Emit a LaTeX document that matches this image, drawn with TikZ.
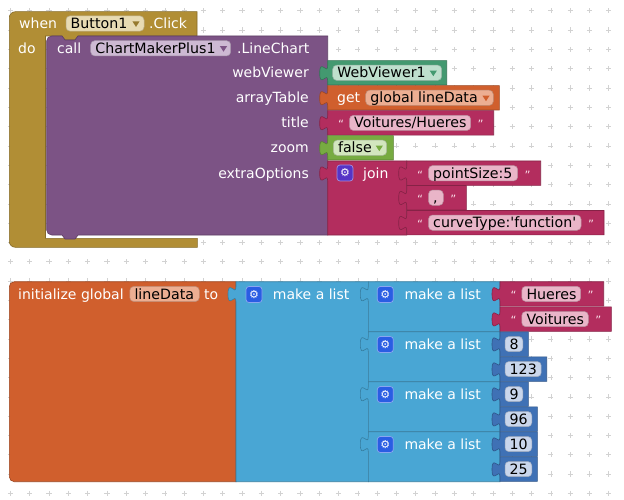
\documentclass[tikz,border=0pt]{standalone}
\usepackage{fontspec}
\setmainfont{DejaVu Sans}[Ligatures=TeXOff]
\definecolor{ctrl}{HTML}{B18E35}
\definecolor{ctrlF}{HTML}{E8DBB3}
\definecolor{proc}{HTML}{7C5385}
\definecolor{procF}{HTML}{CDB9D3}
\definecolor{comp}{HTML}{439970}
\definecolor{compF}{HTML}{BEDFCD}
\definecolor{varo}{HTML}{D05F2D}
\definecolor{varoF}{HTML}{ECAE92}
\definecolor{txt}{HTML}{B32D5E}
\definecolor{txtF}{HTML}{E9B5C8}
\definecolor{logic}{HTML}{77AB41}
\definecolor{logicF}{HTML}{D2E6BE}
\definecolor{lst}{HTML}{49A6D4}
\definecolor{mathb}{HTML}{3F71B5}
\definecolor{mathF}{HTML}{C9D6EC}
\definecolor{gearJ}{HTML}{5534C6}
\definecolor{gearL}{HTML}{2A5DE3}
\definecolor{gridc}{HTML}{D2D2D2}
\definecolor{quoteC}{HTML}{F8DCE6}
\tikzset{
  lbl/.style={text=white, anchor=base west, inner sep=0, font=\fontsize{14}{16}\selectfont},
  lblr/.style={lbl, anchor=base east},
  ftxt/.style={text=black, anchor=base west, inner sep=0, font=\fontsize{14.2}{16}\selectfont},
  qmark/.style={text=quoteC, anchor=base, inner sep=0, font=\fontsize{11.5}{12}\selectfont},
  geartxt/.style={text=white, inner sep=0, font=\fontsize{11}{11}\selectfont},
}
% value block with puzzle tab: x1,y1,x2,y2,colour
\newcommand\vblk[5]{%
  \draw[fill=#5, draw=#5!75!black, line width=0.6]
    (#1,#2) -- (#3,#2) -- (#3,#4) -- (#1,#4) -- (#1,#2+20)
    .. controls (#1,#2+10) and (#1-8,#2+28) .. (#1-8,#2+12.5)
    .. controls (#1-8,#2-3) and (#1,#2+15) .. (#1,#2+5) -- cycle;}
% field: x1,x2,cy,fill,name,text
\newcommand\fld[6]{%
  \draw[fill=#4, draw=#4!80!black, rounded corners=4, line width=0.5] (#1,#3-7.6) rectangle (#2,#3+7.6);
  \node[ftxt] (#5) at (#1+4.5,#3+5.1) {#6};}
% dropdown arrow: x,y,colour
\newcommand\ddarrow[3]{\fill[#3] (#1-3.6,#2-2.2) -- (#1+3.6,#2-2.2) -- (#1,#2+3.4) -- cycle;}
% gear: x,y,colour,name
\newcommand\gearicon[4]{%
  \draw[fill=#3, draw=#3!55!white, rounded corners=3, line width=0.7] (#1-8,#2-8) rectangle (#1+8,#2+8);
  \node[geartxt] (#4) at (#1,#2) {⚙};}
% text block: x1,top,fieldright,text,name
\newcommand\tblk[5]{%
  \vblk{#1}{#2}{#3+23}{#2+24.4}{txt}
  \node[qmark] (#5o) at (#1+13.5,#2+18) {“};
  \fld{#1+21.8}{#3}{#2+12.2}{txtF}{#5}{#4}
  \node[qmark] (#5c) at (#3+10,#2+18) {”};}
% number block: top,right,text,name
\newcommand\nblk[4]{%
  \vblk{500}{#1}{#2}{#1+24.4}{mathb}
  \fld{505}{#2-5.5}{#1+12.2}{mathF}{#4}{#3}}
\begin{document}
\begin{tikzpicture}[x=1pt,y=-1pt]
\useasboundingbox (0,0) rectangle (624,500);
\fill[white] (0,0) rectangle (624,500);
% grid
\foreach \i in {0,...,31}{\foreach \j in {0,...,25}{%
  \draw[gridc, line width=0.6] ({10.4+19.3*\i},{10.8+19.3*\j}) +(-2.6,0) -- +(2.6,0) +(0,-2.6) -- +(0,2.6);}}
% ===== event block =====
\draw[fill=ctrl, draw=ctrl!75!black, line width=0.6]
  (9.3,17.7) arc[start angle=180,end angle=270,radius=6] -- (197,11.7) -- (197,36)
  -- (78,36) -- (75,40) -- (65,40) -- (62,36) -- (45.5,36) -- (45.5,238.3)
  -- (197.3,238.3) -- (197.3,247.3) -- (15.3,247.3) arc[start angle=90,end angle=180,radius=6] -- cycle;
\node[lbl] (when) at (19,28.3) {when};
\fld{66}{144}{23.5}{ctrlF}{btn}{Button1}
\ddarrow{136}{23.5}{ctrl!85!black}
\node[lbl] (click) at (149,28.3) {.Click};
\node[lbl] (do) at (18,53.3) {do};
% ===== call block =====
\draw[fill=proc, draw=proc!75!black, line width=0.6]
  (46.7,41) arc[start angle=180,end angle=270,radius=5] -- (62,36) -- (65,40) -- (75,40) -- (78,36)
  -- (327.7,36) -- (327.7,235) -- (78,235) -- (75,239) -- (65,239) -- (62,235) -- (51.7,235)
  arc[start angle=90,end angle=180,radius=5] -- cycle;
\node[lbl] (call) at (57,53.3) {call};
\fld{90.7}{230.7}{48.3}{procF}{cmp}{ChartMakerPlus1}
\ddarrow{223.5}{48.3}{proc}
\node[lbl] (lc) at (237,53.3) {.LineChart};
\node[lblr] (wv) at (309,77.8) {webViewer};
\node[lblr] (at) at (309,102.8) {arrayTable};
\node[lblr] (ti) at (309,127.8) {title};
\node[lblr] (zo) at (309,152.8) {zoom};
\node[lblr] (eo) at (309,178.3) {extraOptions};
% webViewer
\vblk{327.7}{60.7}{446.7}{85}{comp}
\fld{332.7}{441.7}{72.8}{compF}{wv1}{WebViewer1}
\ddarrow{433.3}{72.8}{comp}
% get
\vblk{327.7}{85.7}{499.3}{110}{varo}
\node[lbl] (get) at (337,102.8) {get};
\fld{365.7}{493.3}{97.8}{varoF}{gld}{global lineData}
\ddarrow{486}{97.8}{varo}
% title
\tblk{327.7}{110.7}{470.7}{Voitures/Hueres}{vh}
% zoom
\vblk{327.7}{135.7}{393.3}{160}{logic}
\fld{333.3}{386.7}{147.8}{logicF}{fls}{false}
\ddarrow{379.3}{147.8}{logic}
% join
\vblk{327.7}{161}{406.7}{235}{txt}
\gearicon{345}{173}{gearJ}{gj}
\node[lbl] (join) at (363,178.3) {join};
\tblk{406.7}{161}{517.7}{pointSize:5}{ps}
\tblk{406.7}{185.5}{443.3}{,}{cm}
\tblk{406.7}{210.5}{581}{curveType:'function'}{ct}
% ===== initialize global =====
\draw[fill=varo, draw=varo!75!black, line width=0.6]
  (9.3,286.7) arc[start angle=180,end angle=270,radius=5] -- (236,281.7) -- (236,481.7)
  -- (14.3,481.7) arc[start angle=90,end angle=180,radius=5] -- cycle;
\node[lbl] (ig) at (18,299.3) {initialize global};
\fld{129.8}{199.3}{294}{varoF}{ld}{lineData}
\node[lbl] (to) at (204,299.3) {to};
% outer list
\vblk{236}{281.7}{368.3}{481.7}{lst}
\gearicon{254}{294.5}{gearL}{g0}
\node[lbl] (ml0) at (272.7,299.3) {make a list};
% inner lists
\foreach \t/\n in {281.7/1,331.7/2,381.7/3,431.7/4}{%
  \vblk{368.3}{\t}{500}{\t+50}{lst}
  \gearicon{385.3}{\t+12.8}{gearL}{g\n}
  \node[lbl] (ml\n) at (404.3,\t+17.6) {make a list};}
\tblk{500}{281.7}{580.7}{Hueres}{hu}
\tblk{500}{306.9}{588.3}{Voitures}{vo}
\nblk{331.9}{528.3}{8}{n8}
\nblk{356.9}{546.7}{123}{n123}
\nblk{381.9}{528.3}{9}{n9}
\nblk{406.9}{537.3}{96}{n96}
\nblk{431.9}{537.3}{10}{n10}
\nblk{456.9}{537.3}{25}{n25}
\end{tikzpicture}
\end{document}
